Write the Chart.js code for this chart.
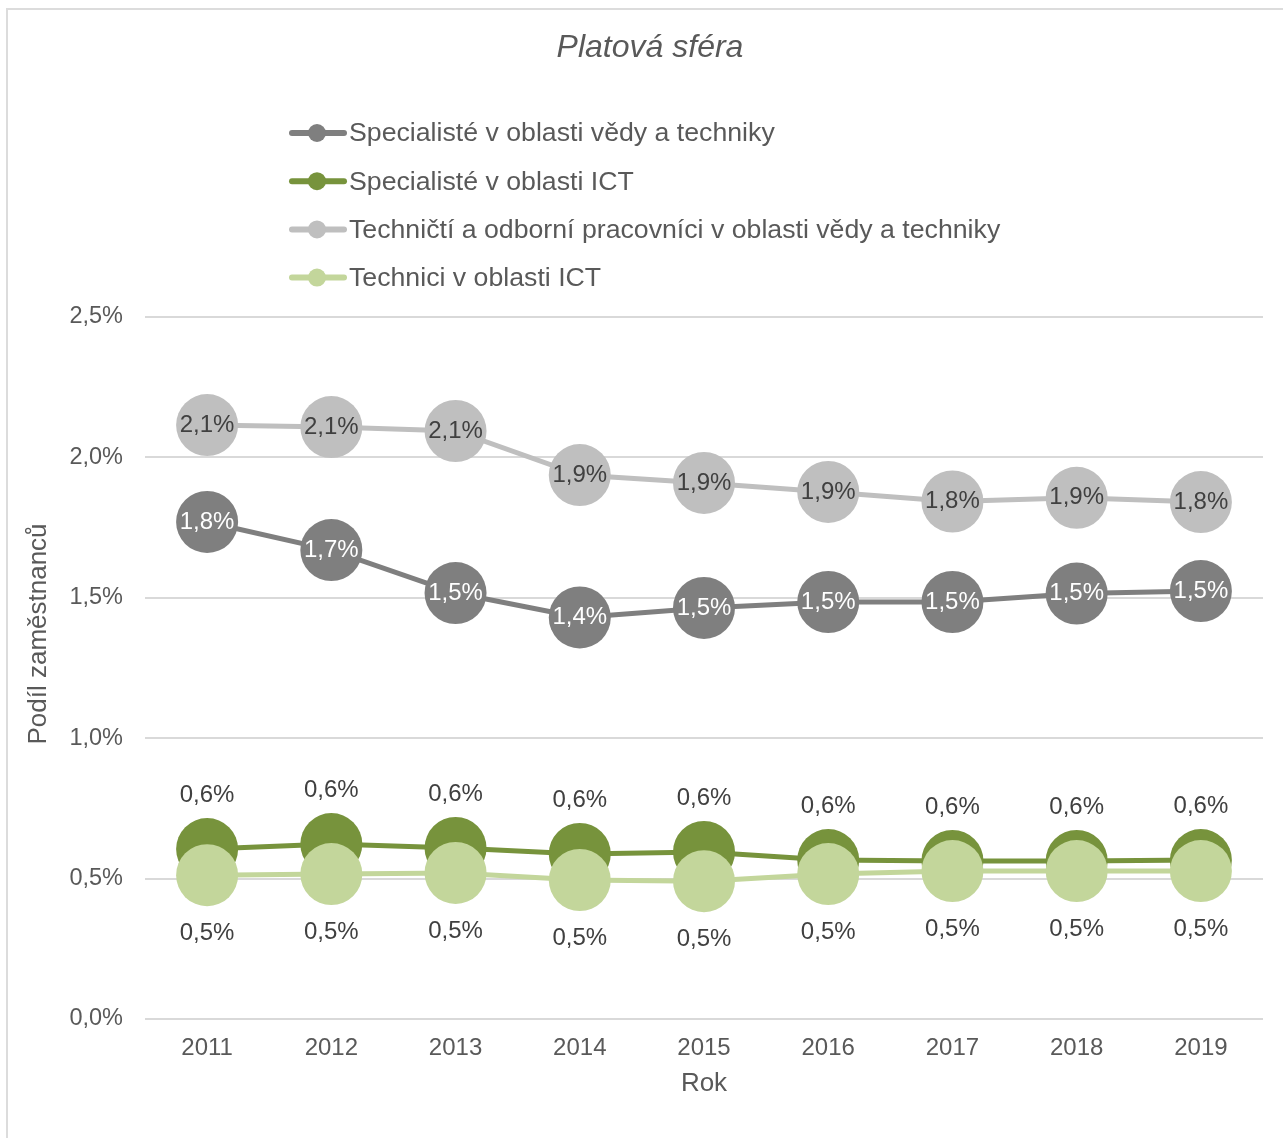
<!DOCTYPE html>
<html>
<head>
<meta charset="utf-8">
<script src="https://cdn.jsdelivr.net/npm/chart.js@4.4.0/dist/chart.umd.min.js"></script>
<style>
  html, body { margin: 0; padding: 0; overflow: hidden; background: #fff; }
  #wrap { position: relative; width: 1283px; height: 1138px; overflow: hidden; }
  #frame { position: absolute; left: 6px; top: 8px; width: 1300px; height: 1200px; border: 2px solid #dcdcdc; box-sizing: border-box; }
  canvas { position: absolute; left: 0; top: 1px; }
</style>
</head>
<body>
<div id="wrap">
  <div id="frame"></div>
  <canvas id="line-chart" width="1294" height="1138"></canvas>
</div>
<script>
// data (values in %)
const years = ['2011', '2012', '2013', '2014', '2015', '2016', '2017', '2018', '2019'];
const seriesNames = [
  'Specialisté v oblasti vědy a techniky',
  'Specialisté v oblasti ICT',
  'Techničtí a odborní pracovníci v oblasti vědy a techniky',
  'Technici v oblasti ICT'
];
const specVedaTech = [1.77, 1.67, 1.517, 1.43, 1.464, 1.485, 1.485, 1.515, 1.524];
const specIct = [0.605, 0.623, 0.609, 0.588, 0.595, 0.566, 0.563, 0.563, 0.566];
const technVedaTech = [2.115, 2.108, 2.094, 1.937, 1.909, 1.877, 1.843, 1.856, 1.841];
const technIct = [0.512, 0.516, 0.52, 0.495, 0.491, 0.516, 0.527, 0.527, 0.527];
const yMin = 0, yMax = 2.5, yStep = 0.5;
const yTitle = 'Podíl zaměstnanců';

const FONT = '"Liberation Sans", Arial, sans-serif';
const TEXT = '#595959';

function fmtPct(v) {
  return v.toFixed(1).replace('.', ',') + '%';
}

// value labels on / above / below the markers
const pointLabels = {
  id: 'pointLabels',
  afterDatasetsDraw(chart) {
    const ctx = chart.ctx;
    ctx.save();
    ctx.font = '24px ' + FONT;
    ctx.textAlign = 'center';
    ctx.textBaseline = 'middle';
    chart.data.datasets.forEach((ds, i) => {
      const meta = chart.getDatasetMeta(i);
      ctx.fillStyle = ds.labelColor;
      meta.data.forEach((pt, j) => {
        ctx.fillText(fmtPct(ds.data[j]), pt.x, pt.y + ds.labelShift);
      });
    });
    ctx.restore();
  }
};

// vertical legend (line + circle) and the y title, which sits above the axis middle
const sideLegend = {
  id: 'sideLegend',
  afterDraw(chart) {
    const ctx = chart.ctx;
    ctx.save();
    ctx.font = '26.7px ' + FONT;
    ctx.textBaseline = 'middle';
    ctx.textAlign = 'left';
    chart.data.datasets.forEach((ds, i) => {
      const y = 132 + i * 48.2;
      ctx.strokeStyle = ds.borderColor;
      ctx.lineWidth = 6;
      ctx.lineCap = 'round';
      ctx.beginPath();
      ctx.moveTo(292, y);
      ctx.lineTo(344, y);
      ctx.stroke();
      ctx.fillStyle = ds.borderColor;
      ctx.beginPath();
      ctx.arc(317, y, 9, 0, Math.PI * 2);
      ctx.fill();
      ctx.fillStyle = TEXT;
      ctx.fillText(ds.label, 349, y + 1);
    });

    ctx.translate(39, 633);
    ctx.rotate(-Math.PI / 2);
    ctx.font = '26px ' + FONT;
    ctx.textAlign = 'center';
    ctx.fillText(yTitle, 0, 0);
    ctx.restore();
  }
};

function lineSet(label, data, color, order, labelColor, labelShift) {
  return {
    label: label,
    data: data,
    borderColor: color,
    backgroundColor: color,
    pointBackgroundColor: color,
    pointBorderColor: color,
    borderWidth: 5,
    pointRadius: 31,
    pointHoverRadius: 31,
    pointBorderWidth: 0,
    tension: 0,
    order: order,
    labelColor: labelColor,
    labelShift: labelShift
  };
}

const chartCanvas = document.querySelector('#line-chart');

new Chart(chartCanvas, {
  type: 'line',
  data: {
    labels: years,
    datasets: [
      lineSet(seriesNames[0], specVedaTech, '#7f7f7f', 3, '#ffffff', 0),
      lineSet(seriesNames[1], specIct, '#77933c', 2, '#404040', -54),
      lineSet(seriesNames[2], technVedaTech, '#bfbfbf', 1, '#404040', 0),
      lineSet(seriesNames[3], technIct, '#c3d69b', 0, '#404040', 58)
    ]
  },
  plugins: [pointLabels, sideLegend],
  options: {
    responsive: false,
    animation: false,
    layout: { padding: { left: 19, right: 13, top: 0, bottom: 0 } },
    plugins: {
      legend: { display: false },
      tooltip: { enabled: false },
      title: {
        display: true,
        text: 'Platová sféra',
        color: TEXT,
        font: { family: FONT, size: 32, style: 'italic', weight: 'normal', lineHeight: 1.2 },
        padding: { top: 27.8, bottom: 249.8 }
      }
    },
    scales: {
      x: {
        offset: true,
        grid: { display: false, drawTicks: false },
        border: { display: false },
        ticks: { color: TEXT, font: { family: FONT, size: 24 }, padding: 15 },
        title: {
          display: true,
          text: 'Rok',
          color: TEXT,
          font: { family: FONT, size: 26, lineHeight: 1.2 },
          padding: { top: 0, bottom: 40 }
        },
        afterFit: (s) => { s.height = 120; }
      },
      y: {
        min: yMin,
        max: yMax,
        grid: { color: '#d9d9d9', lineWidth: 2, drawTicks: false },
        border: { display: false },
        ticks: {
          stepSize: yStep,
          color: TEXT,
          font: { family: FONT, size: 23.5 },
          padding: 22,
          callback: (v) => fmtPct(v)
        },
        afterFit: (s) => { s.width = 126; }
      }
    }
  }
});
</script>
</body>
</html>
